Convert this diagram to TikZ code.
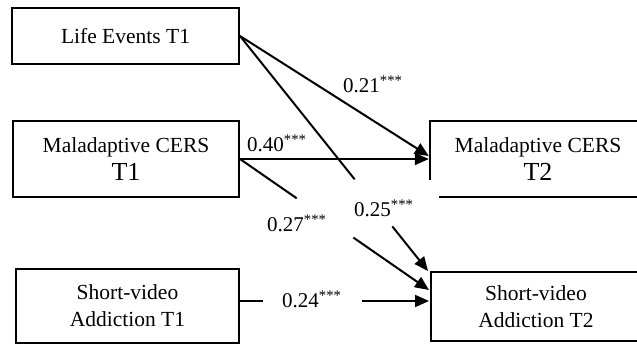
\documentclass[tikz,border=0pt]{standalone}
\usepackage{fontspec}
\setmainfont{Liberation Serif}
\usetikzlibrary{arrows.meta,calc}
\begin{document}
\begin{tikzpicture}[x=1pt,y=-1pt,
  box/.style={draw,line width=2pt,inner sep=0pt,align=center,font=\fontsize{21.5}{27}\selectfont},
  plain/.style={inner sep=0pt,align=center,font=\fontsize{21.5}{27}\selectfont},
  edge/.style={line width=2pt},
  arr/.style={line width=2pt,-{Triangle[length=14pt,width=12pt]}},
  coef/.style={inner sep=0pt,anchor=base west,font=\fontsize{21}{24}\selectfont}]
\useasboundingbox (0,0) rectangle (637,347);
\clip (0,0) rectangle (637,347);

% predictors at T1
\node[box,minimum width=227pt,minimum height=56pt] (life) at (125.5,36) {Life Events T1};
\node[box,minimum width=226pt,minimum height=76pt] (cers1) at (126,159)
  {Maladaptive CERS\\[1pt]{\fontsize{26}{28}\selectfont T1}};
\node[box,minimum width=223pt,minimum height=74pt] (sv1) at (127.5,306)
  {Short-video\\Addiction T1};

% outcomes at T2
\node[plain,minimum width=216pt,minimum height=76pt] (cers2) at (538,159)
  {Maladaptive CERS\\[1pt]{\fontsize{26}{28}\selectfont T2}};
\draw[edge] ($(cers2.south west)+(0,-17)$) -- (cers2.north west) -- (cers2.north east);
\draw[edge] ($(cers2.south west)+(9,0)$) -- (cers2.south east);
\node[box,minimum width=210pt,minimum height=69pt] (sv2) at (536,306.5)
  {Short-video\\Addiction T2};

% arrow end points
\coordinate (t1) at ($(cers2.west)+(-1,-3)$);
\coordinate (t2) at ($(cers2.west)+(-1,0)$);
\coordinate (t3) at ($(sv2.north west)+(-2,0)$);
\coordinate (t4) at ($(sv2.west)+(-1,-16.5)$);
\coordinate (s5) at ($(sv1.east)+(0,-5)$);
\coordinate (t5) at ($(sv2.west)+(-1,-5.5)$);

% paths
\draw[arr] (life.east) -- (t1);
\draw[arr] (cers1.east) -- (t2);
\draw[edge] (life.east) -- ($(life.east)!0.61!(t3)$);
\draw[arr] ($(life.east)!0.81!(t3)$) -- (t3);
\draw[edge] (cers1.east) -- ($(cers1.east)!0.30!(t4)$);
\draw[arr] ($(cers1.east)!0.60!(t4)$) -- (t4);
\draw[edge] (s5) -- ($(s5)!0.12!(t5)$);
\draw[arr] ($(s5)!0.644!(t5)$) -- (t5);

% coefficients
\node[coef] (c21) at (343,93) {0.21\textsuperscript{***}};
\node[coef] (c40) at (247,152) {0.40\textsuperscript{***}};
\node[coef] (c25) at (354,217) {0.25\textsuperscript{***}};
\node[coef] (c27) at (267,232) {0.27\textsuperscript{***}};
\node[coef] (c24) at (282,308) {0.24\textsuperscript{***}};
\end{tikzpicture}
\end{document}
